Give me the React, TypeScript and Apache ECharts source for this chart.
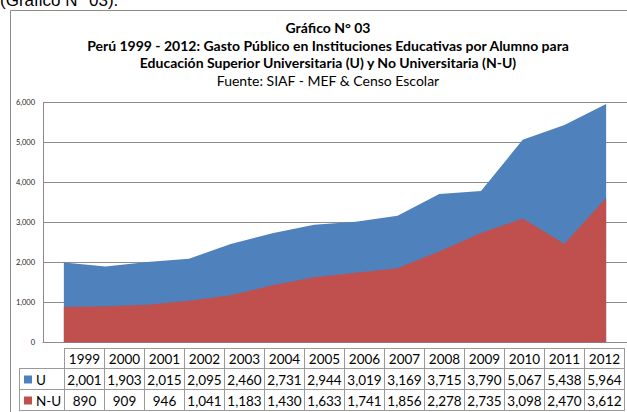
import React, { useEffect, useRef } from "react";
import * as echarts from "echarts";

const years = ["1999", "2000", "2001", "2002", "2003", "2004", "2005", "2006", "2007", "2008", "2009", "2010", "2011", "2012"];
const uValues = [2001, 1903, 2015, 2095, 2460, 2731, 2944, 3019, 3169, 3715, 3790, 5067, 5438, 5964];
const nuValues = [890, 909, 946, 1041, 1183, 1430, 1633, 1741, 1856, 2278, 2735, 3098, 2470, 3612];
const seriesNames = ["U", "N-U"];
const seriesColors = ["#4F81BD", "#C0504D"];
const titleLines = [
  "Gráfico N° 03",
  "Perú 1999 - 2012: Gasto Público en Instituciones Educativas por Alumno para",
  "Educación Superior Universitaria (U) y No Universitaria (N-U)",
];
const sourceLine = "Fuente: SIAF - MEF & Censo Escolar";
const headerText = "(Gráfico N° 03).";

const fmt = (v: number) => v.toLocaleString("en-US");

export default function App() {
  const ref = useRef<HTMLDivElement>(null);
  useEffect(() => {
    if (!ref.current) return;
    const chart = echarts.init(ref.current, null, { renderer: "svg" });
    const font = "Lato";
    const gridColor = "#8c8c8c";
    const tableColor = "#9a9a9a";
    const colX0 = 64;
    const colW = 40;
    const rowY = [348, 368, 389, 410];
    const legendX = 19.5;
    const tableRight = colX0 + colW * years.length;

    const graphic: any[] = [];
    graphic.push({
      type: "rect",
      shape: { x: 10.5, y: 10.5, width: 800, height: 600 },
      style: { fill: "none", stroke: gridColor, lineWidth: 1 },
      silent: true,
    });
    graphic.push({
      type: "text",
      x: 0,
      y: 9,
      style: { text: headerText, fontSize: 17, fontFamily: "Liberation Sans", fill: "#000", align: "left", verticalAlign: "bottom" },
    });
    const titleYs = [27, 45, 62];
    titleLines.forEach((t, i) => {
      graphic.push({
        type: "text",
        x: 328,
        y: titleYs[i],
        style: { text: t, fontSize: 14, fontWeight: "bold", fontFamily: font, fill: "#000", align: "center", verticalAlign: "middle" },
      });
    });
    graphic.push({
      type: "text",
      x: 328,
      y: 80,
      style: { text: sourceLine, fontSize: 14, fontFamily: font, fill: "#000", align: "center", verticalAlign: "middle" },
    });

    const hl = (y: number, x1: number, x2: number) =>
      graphic.push({ type: "line", shape: { x1, y1: y + 0.5, x2, y2: y + 0.5 }, style: { stroke: tableColor, lineWidth: 1 } });
    const vl = (x: number, y1: number, y2: number) =>
      graphic.push({ type: "line", shape: { x1: x + 0.5, y1, x2: x + 0.5, y2 }, style: { stroke: tableColor, lineWidth: 1 } });
    hl(rowY[0], colX0, tableRight);
    hl(rowY[1], legendX, tableRight);
    hl(rowY[2], legendX, tableRight);
    hl(rowY[3], legendX, tableRight);
    vl(legendX - 0.5, rowY[1], rowY[3] + 1);
    for (let i = 0; i <= years.length; i++) vl(colX0 + colW * i, rowY[0], rowY[3] + 1);

    const rowsData = [uValues, nuValues];
    years.forEach((y, i) => {
      const cx = colX0 + colW * i + colW / 2 + 0.5;
      graphic.push({
        type: "text",
        x: cx,
        y: (rowY[0] + rowY[1]) / 2 + 1,
        style: { text: y, fontSize: 13.5, fontFamily: font, fill: "#000", align: "center", verticalAlign: "middle" },
      });
      rowsData.forEach((arr, r) => {
        graphic.push({
          type: "text",
          x: cx,
          y: (rowY[r + 1] + rowY[r + 2]) / 2 + 1,
          style: { text: fmt(arr[i]), fontSize: 13.5, fontFamily: font, fill: "#000", align: "center", verticalAlign: "middle" },
        });
      });
    });
    seriesNames.forEach((n, r) => {
      const cy = (rowY[r + 1] + rowY[r + 2]) / 2 + 1;
      graphic.push({
        type: "rect",
        shape: { x: 24, y: cy - 4, width: 8, height: 8 },
        style: { fill: seriesColors[r] },
      });
      graphic.push({
        type: "text",
        x: 36,
        y: cy,
        style: { text: n, fontSize: 13.5, fontFamily: font, fill: "#000", align: "left", verticalAlign: "middle" },
      });
    });

    chart.setOption({
      animation: false,
      backgroundColor: "#fff",
      grid: { left: 43, right: 0, top: 102.5, height: 240, containLabel: false },
      xAxis: {
        type: "category",
        data: years,
        boundaryGap: true,
        axisLabel: { show: false },
        axisTick: { show: false },
        axisLine: { lineStyle: { color: gridColor, width: 1 } },
      },
      yAxis: {
        type: "value",
        min: 0,
        max: 6000,
        interval: 1000,
        axisLine: { show: true, lineStyle: { color: gridColor, width: 1 } },
        axisTick: { show: false },
        splitLine: { lineStyle: { color: gridColor, width: 1 } },
        axisLabel: { fontSize: 7.5, fontFamily: font, color: "#222", margin: 8, formatter: (v: number) => fmt(v) },
      },
      series: [
        {
          name: seriesNames[0],
          type: "line",
          data: uValues,
          symbol: "none",
          lineStyle: { width: 0 },
          areaStyle: { color: seriesColors[0], opacity: 1 },
          itemStyle: { color: seriesColors[0] },
          z: 2,
        },
        {
          name: seriesNames[1],
          type: "line",
          data: nuValues,
          symbol: "none",
          lineStyle: { width: 0 },
          areaStyle: { color: seriesColors[1], opacity: 1 },
          itemStyle: { color: seriesColors[1] },
          z: 3,
        },
      ],
      graphic,
    });
    return () => chart.dispose();
  }, []);
  return <div ref={ref} style={{ position: "fixed", left: 0, top: 0, width: 627, height: 412 }} />;
}
